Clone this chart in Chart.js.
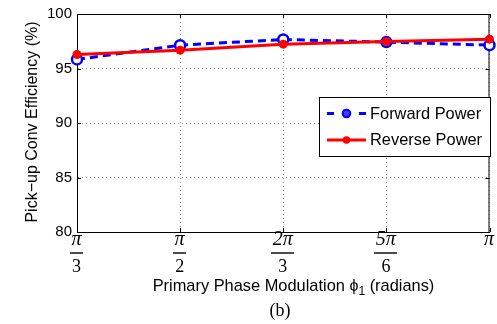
<!DOCTYPE html>
<html>
<head>
<meta charset="utf-8">
<script src="https://cdn.jsdelivr.net/npm/chart.js@4/dist/chart.umd.min.js"></script>
<style>
  html, body { margin: 0; padding: 0; background: #fff; }
  #wrap { width: 497px; height: 324px; position: relative; }
</style>
</head>
<body>
<div id="wrap"><canvas id="c" width="497" height="324"></canvas></div>
<script>
// Phase modulation settings (radians) and their fraction labels
const phaseValues = [Math.PI / 3, Math.PI / 2, 2 * Math.PI / 3, 5 * Math.PI / 6, Math.PI];
const phaseNumerators = ['π', 'π', '2π', '5π', 'π'];
const phaseDenominators = ['3', '2', '3', '6', ''];

// Pick-up conversion efficiency (%)
const forwardPower = [95.83, 97.14, 97.66, 97.42, 97.14];
const reversePower = [96.28, 96.68, 97.23, 97.47, 97.69];

const yTicks = [80, 85, 90, 95, 100];

const SANS = '"Liberation Sans", Arial, Helvetica, sans-serif';
const SERIF = '"Liberation Serif", "DejaVu Serif", serif';

function toPoints(values) {
  return phaseValues.map((x, i) => ({ x: x, y: values[i] }));
}

// Box, inward tick marks, fraction tick labels, titles and legend
const decorations = {
  id: 'decorations',
  beforeDatasetsDraw(chart) {
    const { ctx, chartArea: a, scales } = chart;
    ctx.save();
    ctx.strokeStyle = '#000';
    ctx.lineWidth = 1;
    ctx.setLineDash([]);
    ctx.beginPath();
    ctx.moveTo(a.left, a.top + 0.5);
    ctx.lineTo(a.right, a.top + 0.5);
    ctx.moveTo(a.right - 0.5, a.top);
    ctx.lineTo(a.right - 0.5, a.bottom);
    // inward ticks
    phaseValues.forEach(v => {
      const px = Math.round(scales.x.getPixelForValue(v)) + 0.5;
      ctx.moveTo(px, a.bottom); ctx.lineTo(px, a.bottom - 4);
      ctx.moveTo(px, a.top); ctx.lineTo(px, a.top + 4);
    });
    yTicks.forEach(v => {
      const py = Math.round(scales.y.getPixelForValue(v)) + 0.5;
      ctx.moveTo(a.left, py); ctx.lineTo(a.left + 4, py);
      ctx.moveTo(a.right, py); ctx.lineTo(a.right - 4, py);
    });
    ctx.stroke();
    ctx.restore();
  },
  afterDraw(chart) {
    const { ctx, chartArea: a, scales } = chart;
    ctx.save();
    ctx.setLineDash([]);
    ctx.fillStyle = '#000';
    ctx.strokeStyle = '#000';

    // fraction tick labels
    phaseValues.forEach((v, i) => {
      const px = scales.x.getPixelForValue(v) - 0.5;
      const num = phaseNumerators[i];
      const den = phaseDenominators[i];
      ctx.textAlign = 'center';
      ctx.textBaseline = 'alphabetic';
      ctx.font = 'italic 20px ' + SERIF;
      ctx.fillText(num, px, a.bottom + 13);
      if (den) {
        const w = Math.max(ctx.measureText(num).width, 10) + 3;
        ctx.beginPath();
        ctx.lineWidth = 1.4;
        ctx.moveTo(Math.round(px - w / 2), a.bottom + 21);
        ctx.lineTo(Math.round(px + w / 2), a.bottom + 21);
        ctx.stroke();
        ctx.font = '18px ' + SERIF;
        ctx.fillText(den, px, a.bottom + 40);
      }
    });

    // y axis title
    ctx.save();
    ctx.translate(33, (a.top + a.bottom) / 2 - 1);
    ctx.rotate(-Math.PI / 2);
    ctx.font = '16px ' + SANS;
    ctx.textAlign = 'center';
    ctx.textBaseline = 'middle';
    ctx.fillText('Pick\u2212up Conv Efficiency (%)', 0, 0);
    ctx.restore();

    // x axis title with subscript
    const parts = [
      { t: 'Primary Phase Modulation ', f: '16.4px ' + SANS, dy: 0 },
      { t: '\u03d5', f: '16px ' + SANS, dy: 0 },
      { t: '1', f: '12px ' + SANS, dy: 4 },
      { t: ' (radians)', f: '16.4px ' + SANS, dy: 0 }
    ];
    let total = 0;
    parts.forEach(p => { ctx.font = p.f; p.w = ctx.measureText(p.t).width; total += p.w; });
    let x = 293.5 - total / 2;
    ctx.textAlign = 'left';
    ctx.textBaseline = 'alphabetic';
    parts.forEach(p => { ctx.font = p.f; ctx.fillText(p.t, x, 291 + p.dy); x += p.w; });

    // panel label
    ctx.font = '18px ' + SERIF;
    ctx.textAlign = 'center';
    ctx.fillText('(b)', 280, 316);

    // legend
    const lx = 319, ly = 97, lw = 172, lh = 60;
    ctx.fillStyle = '#fff';
    ctx.fillRect(lx, ly, lw, lh);
    ctx.strokeStyle = '#000';
    ctx.lineWidth = 1;
    ctx.strokeRect(lx + 0.5, ly + 0.5, lw - 1, lh - 1);
    const rows = [113.5, 140];
    chart.data.datasets.forEach((ds, i) => {
      const y = rows[i];
      ctx.save();
      ctx.strokeStyle = ds.borderColor;
      ctx.lineWidth = ds.borderWidth;
      ctx.beginPath();
      if (ds.borderDash) {
        ctx.moveTo(327, y); ctx.lineTo(334, y);
        ctx.moveTo(359, y); ctx.lineTo(366, y);
      } else {
        ctx.moveTo(327, y); ctx.lineTo(366, y);
      }
      ctx.stroke();
      ctx.beginPath();
      ctx.arc(346.5, y, 3.8, 0, Math.PI * 2);
      ctx.fillStyle = ds.borderDash ? '#4040ff' : ds.pointBackgroundColor;
      ctx.fill();
      if (ds.borderDash) {
        ctx.lineWidth = 2;
        ctx.strokeStyle = ds.borderColor;
        ctx.stroke();
      }
      ctx.restore();
      ctx.fillStyle = '#000';
      ctx.font = '16.4px ' + SANS;
      ctx.textAlign = 'left';
      ctx.textBaseline = 'middle';
      ctx.fillText(ds.label, 370, y + 0.5);
    });
    ctx.restore();
  }
};

new Chart(document.getElementById('c'), {
  type: 'line',
  data: {
    datasets: [
      {
        label: 'Forward Power',
        data: toPoints(forwardPower),
        borderColor: '#0000ff',
        borderWidth: 3,
        borderDash: [8, 5],
        pointRadius: 5,
        pointBorderWidth: 2.5,
        pointBorderColor: '#0000ff',
        pointBackgroundColor: '#ffffff',
        order: 1,
        clip: false,
        tension: 0
      },
      {
        label: 'Reverse Power',
        data: toPoints(reversePower),
        borderColor: '#ff0000',
        borderWidth: 3,
        pointRadius: 4.5,
        pointBorderWidth: 0,
        pointBackgroundColor: '#ff0000',
        order: 0,
        clip: false,
        tension: 0
      }
    ]
  },
  options: {
    responsive: false,
    animation: false,
    layout: { padding: { top: 13, right: 5, left: 0, bottom: 0 } },
    plugins: { legend: { display: false }, tooltip: { enabled: false } },
    scales: {
      x: {
        type: 'linear',
        min: phaseValues[0],
        max: phaseValues[phaseValues.length - 1],
        afterBuildTicks(scale) { scale.ticks = phaseValues.map(v => ({ value: v })); },
        afterFit(scale) { scale.height = 92; },
        ticks: { display: false },
        grid: { color: '#8c8c8c', drawTicks: false },
        border: { display: true, color: '#000', width: 1, dash: [1, 3] }
      },
      y: {
        min: 80,
        max: 100,
        afterBuildTicks(scale) { scale.ticks = yTicks.map(v => ({ value: v })); },
        afterFit(scale) { scale.width = 77; },
        ticks: { color: '#000', font: { family: SANS, size: 15 }, padding: 5 },
        grid: { color: '#8c8c8c', drawTicks: false },
        border: { display: true, color: '#000', width: 1, dash: [1, 3] }
      }
    }
  },
  plugins: [decorations]
});
</script>
</body>
</html>
